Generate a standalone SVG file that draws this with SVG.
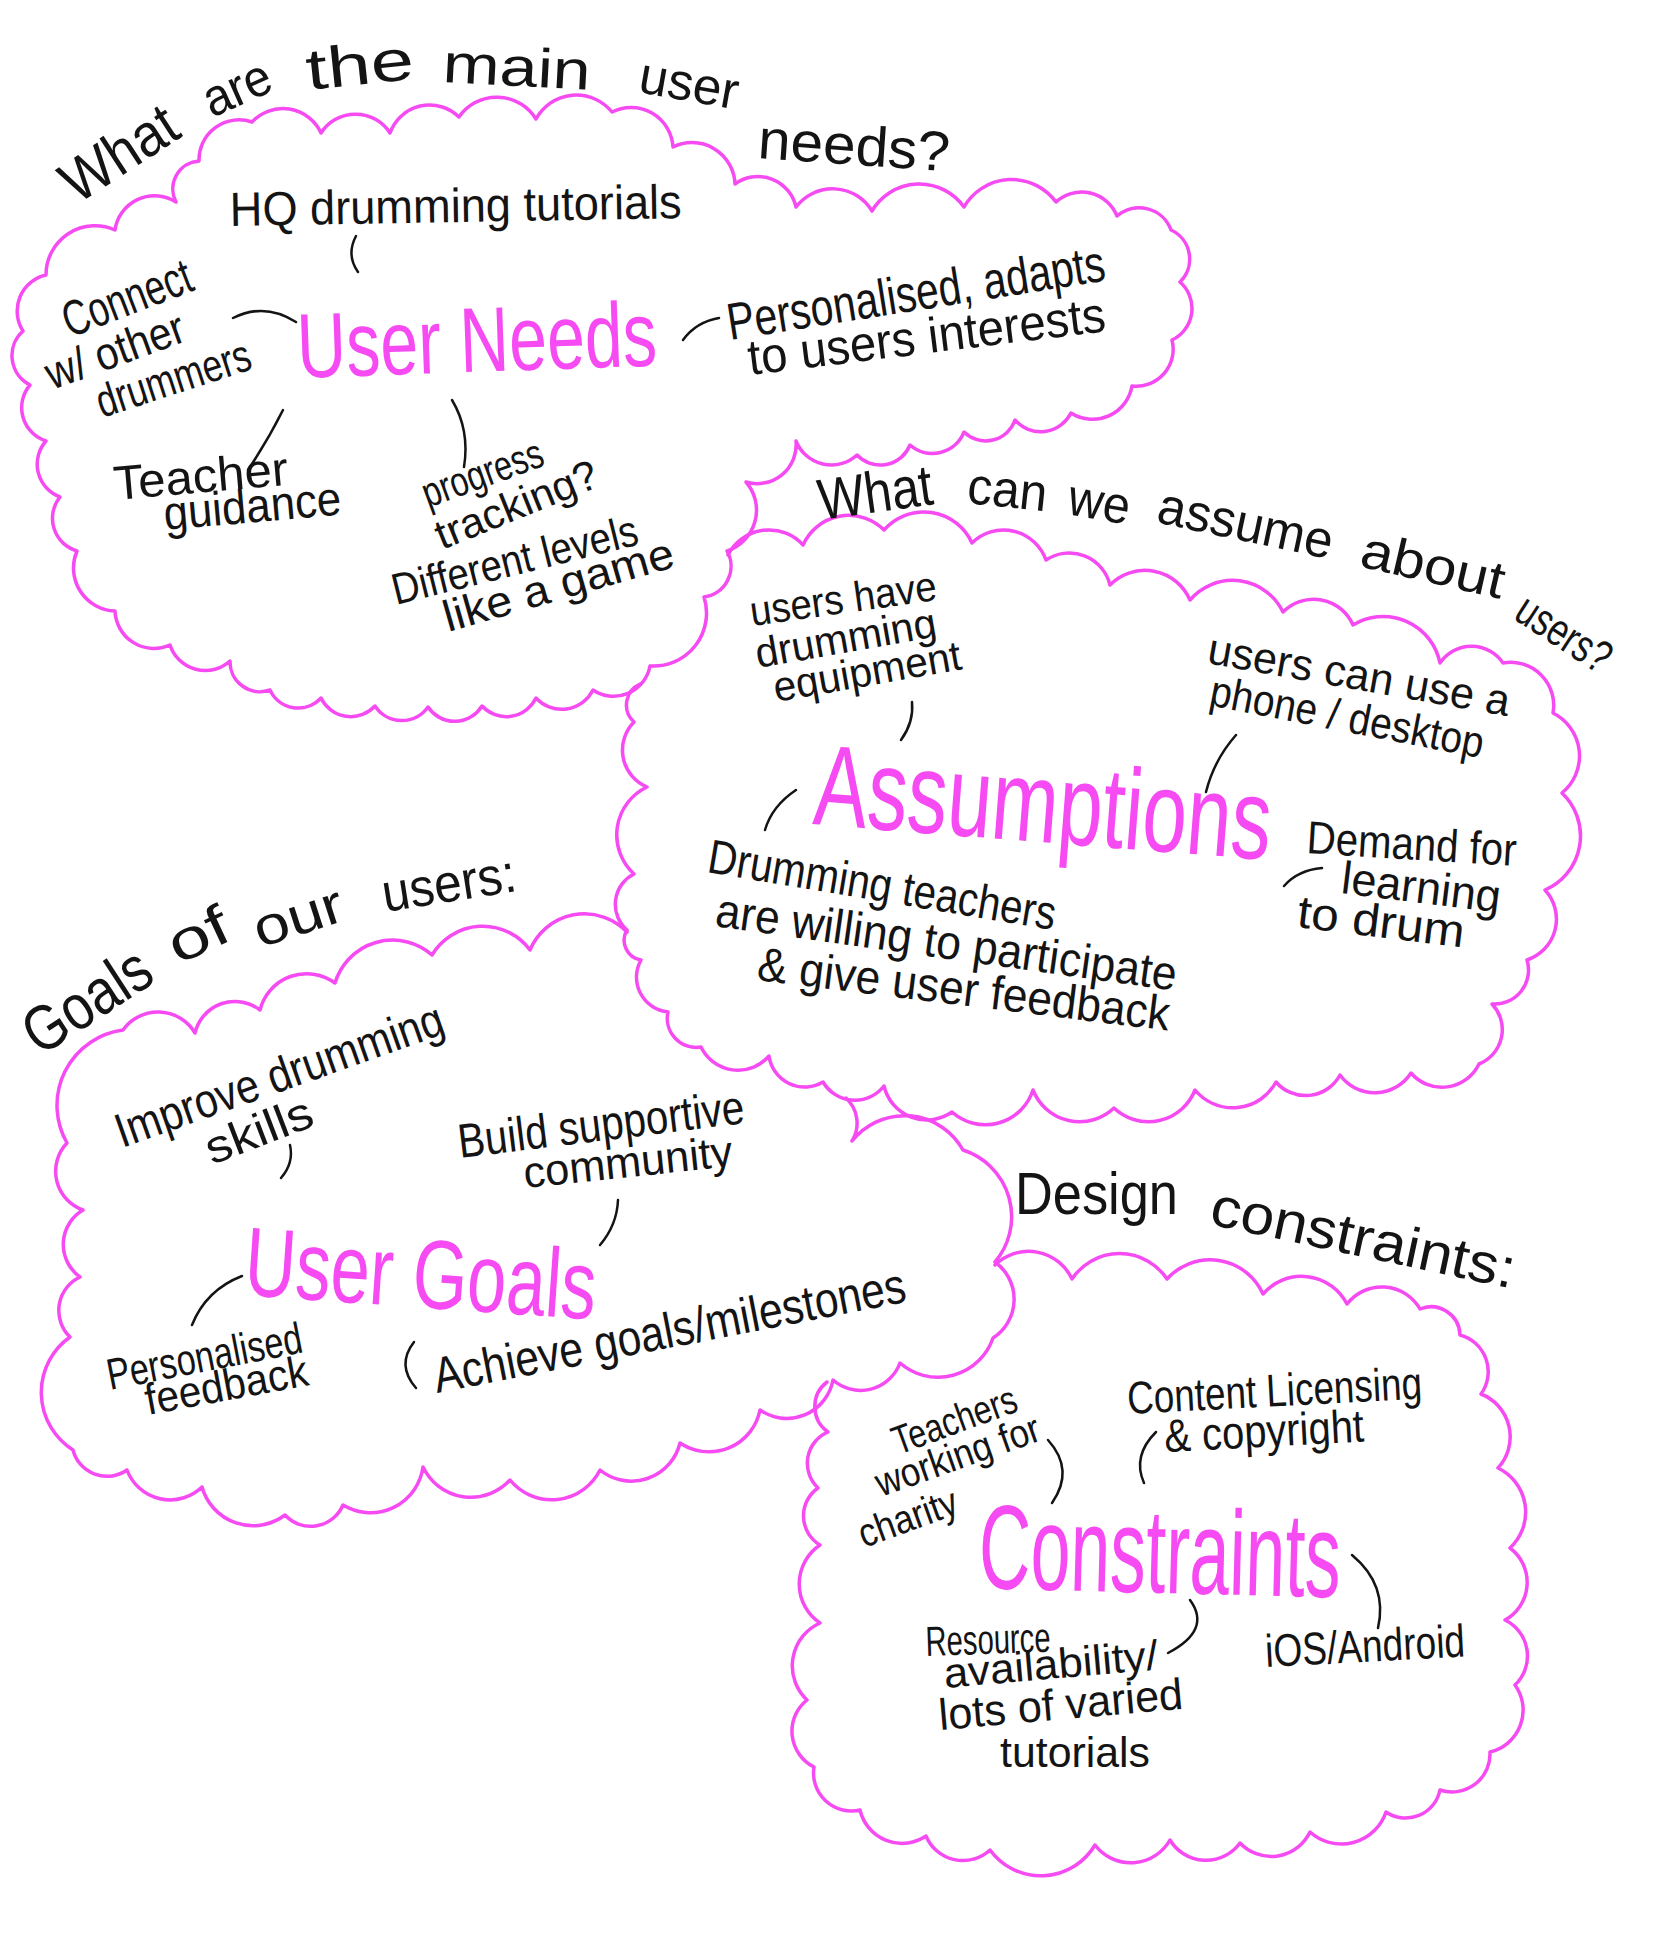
<svg xmlns="http://www.w3.org/2000/svg" width="1660" height="1949" viewBox="0 0 1660 1949">
<style>
.cloud{fill:none;stroke:#f64af2;stroke-width:3.5;stroke-linejoin:round;stroke-linecap:round}
.title{font-family:'Liberation Sans',Arial,sans-serif;fill:#f64af2}
.hand{font-family:'Liberation Sans',Arial,sans-serif;fill:#141414}
.conn{fill:none;stroke:#141414;stroke-width:2.5;stroke-linecap:round}
</style>
<rect width="1660" height="1949" fill="#ffffff"/>

<g id="cloud-needs">
<path class="cloud" d="M176,202 A28,28 0 0 1 199,161 A40,40 0 0 1 252,122 A42,42 0 0 1 321,133 A41,41 0 0 1 390,133 A42,42 0 0 1 459,117 A46,46 0 0 1 536,119 A46,46 0 0 1 612,112 A42,42 0 0 1 673,147 A43,43 0 0 1 735,184 A39,39 0 0 1 796,207 A46,46 0 0 1 872,211 A55,55 0 0 1 964,207 A55,55 0 0 1 1056,202 A38,38 0 0 1 1117,216 A34,34 0 0 1 1171,230 A32,32 0 0 1 1180,282 A35,35 0 0 1 1172,340 A37,37 0 0 1 1132,386 A40,40 0 0 1 1071,413 A34,34 0 0 1 1015,420 A31,31 0 0 1 964,432 A34,34 0 0 1 910,445 A32,32 0 0 1 857,455 A38,38 0 0 1 796,441 A39,39 0 0 1 746,482 A43,43 0 0 1 727,551 A31,31 0 0 1 704,597 A53,53 0 0 1 650,666 A37,37 0 0 1 593,690 A35,35 0 0 1 536,698 A33,33 0 0 1 482,706 A32,32 0 0 1 428,707 A32,32 0 0 1 375,706 A33,33 0 0 1 321,698 A31,31 0 0 1 270,690 A30,30 0 0 1 230,661 A37,37 0 0 1 170,645 A39,39 0 0 1 115,611 A43,43 0 0 1 77,551 A34,34 0 0 1 60,497 A35,35 0 0 1 46,441 A35,35 0 0 1 30,385 A33,33 0 0 1 23,331 A37,37 0 0 1 46,275 A49,49 0 0 1 115,230 A40,40 0 0 1 176,202 Z"/>
<text class="title" font-size="92" transform="translate(298,378) rotate(-2)" textLength="360" lengthAdjust="spacingAndGlyphs">User Needs</text>
</g>

<g id="cloud-assumptions">
<path class="cloud" d="M728,555 A46,46 0 0 1 803,545 A50,50 0 0 1 884,530 A53,53 0 0 1 972,543 A45,45 0 0 1 1046,560 A42,42 0 0 1 1110,585 A49,49 0 0 1 1190,600 A56,56 0 0 1 1283,612 A43,43 0 0 1 1353,625 A58,58 0 0 1 1440,663 A38,38 0 0 1 1503,663 A43,43 0 0 1 1553,713 A48,48 0 0 1 1562,793 A59,59 0 0 1 1545,890 A43,43 0 0 1 1527,960 A34,34 0 0 1 1492,1004 A37,37 0 0 1 1479,1064 A41,41 0 0 1 1411,1073 A43,43 0 0 1 1340,1075 A39,39 0 0 1 1276,1082 A49,49 0 0 1 1195,1090 A50,50 0 0 1 1114,1108 A50,50 0 0 1 1033,1090 A50,50 0 0 1 952,1112 A44,44 0 0 1 884,1086 A37,37 0 0 1 823,1082 A36,36 0 0 1 769,1056 A41,41 0 0 1 701,1047 A29,29 0 0 1 668,1012 A35,35 0 0 1 641,960 A20,20 0 0 1 627,930 A34,34 0 0 1 634,874 A53,53 0 0 1 647,787 A40,40 0 0 1 634,722 A23,23 0 0 1 640,684"/>
<text class="title" font-size="115" transform="translate(812,824) rotate(4.5)" textLength="458" lengthAdjust="spacingAndGlyphs">Assumptions</text>
</g>

<g id="cloud-goals">
<path class="cloud" d="M846,1098 A34,34 0 0 1 852,1141 A67,67 0 0 1 963,1150 A70,70 0 0 1 995,1262 A46,46 0 0 1 993,1338 A58,58 0 0 1 900,1363 A42,42 0 0 1 833,1380 A47,47 0 0 1 760,1410 A52,52 0 0 1 680,1443 A50,50 0 0 1 600,1470 A54,54 0 0 1 510,1480 A53,53 0 0 1 423,1467 A53,53 0 0 1 343,1505 A35,35 0 0 1 285,1515 A53,53 0 0 1 202,1487 A46,46 0 0 1 127,1470 A35,35 0 0 1 73,1450 A68,68 0 0 1 70,1337 A37,37 0 0 1 80,1277 A40,40 0 0 1 83,1210 A41,41 0 0 1 67,1143 A76,76 0 0 1 123,1030 A43,43 0 0 1 195,1033 A41,41 0 0 1 260,1010 A48,48 0 0 1 335,983 A60,60 0 0 1 432,955 A59,59 0 0 1 530,950 A59,59 0 0 1 627,932"/>
<text class="title" font-size="98" transform="translate(243,1295) rotate(4)" textLength="352" lengthAdjust="spacingAndGlyphs">User Goals</text>
</g>

<g id="cloud-constraints">
<path class="cloud" d="M995,1265 A48,48 0 0 1 1072,1279 A57,57 0 0 1 1167,1279 A58,58 0 0 1 1263,1294 A51,51 0 0 1 1347,1304 A44,44 0 0 1 1420,1309 A29,29 0 0 1 1460,1335 A38,38 0 0 1 1481,1394 A46,46 0 0 1 1498,1468 A49,49 0 0 1 1510,1548 A43,43 0 0 1 1505,1620 A40,40 0 0 1 1515,1685 A43,43 0 0 1 1490,1752 A38,38 0 0 1 1440,1790 A35,35 0 0 1 1386,1812 A47,47 0 0 1 1310,1832 A43,43 0 0 1 1240,1843 A42,42 0 0 1 1170,1840 A45,45 0 0 1 1095,1845 A63,63 0 0 1 990,1850 A40,40 0 0 1 926,1836 A43,43 0 0 1 860,1810 A38,38 0 0 1 814,1767 A40,40 0 0 1 807,1700 A47,47 0 0 1 820,1623 A47,47 0 0 1 820,1545 A34,34 0 0 1 818,1488 A34,34 0 0 1 828,1432 A31,31 0 0 1 827,1382"/>
<text class="title" font-size="120" transform="translate(978,1588) rotate(1.5)" textLength="362" lengthAdjust="spacingAndGlyphs">Constraints</text>
</g>

<g id="heading-needs" class="hand">
<text font-size="60" transform="translate(77,205) rotate(-33)" textLength="127" lengthAdjust="spacingAndGlyphs">What</text>
<text font-size="52" transform="translate(212,118) rotate(-24)" textLength="70" lengthAdjust="spacingAndGlyphs">are</text>
<text font-size="58" transform="translate(308,90) rotate(-6)" textLength="108" lengthAdjust="spacingAndGlyphs">the</text>
<text font-size="55" transform="translate(442,82) rotate(3)" textLength="148" lengthAdjust="spacingAndGlyphs">main</text>
<text font-size="52" transform="translate(637,92) rotate(10)" textLength="100" lengthAdjust="spacingAndGlyphs">user</text>
<text font-size="56" transform="translate(757,158) rotate(4)" textLength="192" lengthAdjust="spacingAndGlyphs">needs?</text>
</g>

<g id="heading-assumptions" class="hand">
<text font-size="58" transform="translate(821,520) rotate(-8)" textLength="115" lengthAdjust="spacingAndGlyphs">What</text>
<text font-size="52" transform="translate(966,503) rotate(6)" textLength="80" lengthAdjust="spacingAndGlyphs">can</text>
<text font-size="52" transform="translate(1066,514) rotate(10)" textLength="62" lengthAdjust="spacingAndGlyphs">we</text>
<text font-size="52" transform="translate(1155,522) rotate(12)" textLength="178" lengthAdjust="spacingAndGlyphs">assume</text>
<text font-size="52" transform="translate(1358,566) rotate(13)" textLength="146" lengthAdjust="spacingAndGlyphs">about</text>
<text font-size="46" transform="translate(1512,618) rotate(33)" textLength="104" lengthAdjust="spacingAndGlyphs">users?</text>
</g>

<g id="heading-goals" class="hand">
<text font-size="64" transform="translate(40,1057) rotate(-33)" textLength="140" lengthAdjust="spacingAndGlyphs">Goals</text>
<text font-size="56" transform="translate(178,965) rotate(-25)" textLength="62" lengthAdjust="spacingAndGlyphs">of</text>
<text font-size="54" transform="translate(260,948) rotate(-18)" textLength="92" lengthAdjust="spacingAndGlyphs">our</text>
<text font-size="54" transform="translate(385,912) rotate(-9)" textLength="135" lengthAdjust="spacingAndGlyphs">users:</text>
</g>

<g id="heading-constraints" class="hand">
<text font-size="60" transform="translate(1015,1214)" textLength="163" lengthAdjust="spacingAndGlyphs">Design</text>
<text font-size="56" transform="translate(1208,1224) rotate(12)" textLength="310" lengthAdjust="spacingAndGlyphs">constraints:</text>
</g>

<g id="need-hq" class="hand"><text font-size="48" transform="translate(230,226) rotate(-1)" textLength="452" lengthAdjust="spacingAndGlyphs">HQ drumming tutorials</text></g>
<g id="need-connect" class="hand">
<text font-size="50" transform="translate(70,338) rotate(-21)" textLength="135" lengthAdjust="spacingAndGlyphs">Connect</text>
<text font-size="46" transform="translate(52,390) rotate(-20)" textLength="145" lengthAdjust="spacingAndGlyphs">w/ other</text>
<text font-size="46" transform="translate(102,418) rotate(-18)" textLength="160" lengthAdjust="spacingAndGlyphs">drummers</text>
</g>
<g id="need-personalised" class="hand">
<text font-size="52" transform="translate(730,340) rotate(-9)" textLength="382" lengthAdjust="spacingAndGlyphs">Personalised, adapts</text>
<text font-size="50" transform="translate(750,375) rotate(-7)" textLength="360" lengthAdjust="spacingAndGlyphs">to users interests</text>
</g>
<g id="need-teacher" class="hand">
<text font-size="48" transform="translate(115,500) rotate(-5)" textLength="175" lengthAdjust="spacingAndGlyphs">Teacher</text>
<text font-size="48" transform="translate(165,530) rotate(-5)" textLength="178" lengthAdjust="spacingAndGlyphs">guidance</text>
</g>
<g id="need-progress" class="hand">
<text font-size="42" transform="translate(428,508) rotate(-20)" textLength="126" lengthAdjust="spacingAndGlyphs">progress</text>
<text font-size="42" transform="translate(442,550) rotate(-22)" textLength="172" lengthAdjust="spacingAndGlyphs">tracking?</text>
<text font-size="44" transform="translate(396,605) rotate(-14)" textLength="252" lengthAdjust="spacingAndGlyphs">Different levels</text>
<text font-size="44" transform="translate(448,632) rotate(-16)" textLength="238" lengthAdjust="spacingAndGlyphs">like a game</text>
</g>

<g id="assume-equipment" class="hand">
<text font-size="42" transform="translate(752,626) rotate(-8)" textLength="188" lengthAdjust="spacingAndGlyphs">users have</text>
<text font-size="42" transform="translate(758,668) rotate(-10)" textLength="183" lengthAdjust="spacingAndGlyphs">drumming</text>
<text font-size="42" transform="translate(776,702) rotate(-10)" textLength="190" lengthAdjust="spacingAndGlyphs">equipment</text>
</g>
<g id="assume-phone" class="hand">
<text font-size="44" transform="translate(1206,663) rotate(10)" textLength="306" lengthAdjust="spacingAndGlyphs">users can use a</text>
<text font-size="44" transform="translate(1208,705) rotate(11)" textLength="278" lengthAdjust="spacingAndGlyphs">phone / desktop</text>
</g>
<g id="assume-demand" class="hand">
<text font-size="46" transform="translate(1306,853) rotate(3.5)" textLength="210" lengthAdjust="spacingAndGlyphs">Demand for</text>
<text font-size="46" transform="translate(1340,893) rotate(7)" textLength="160" lengthAdjust="spacingAndGlyphs">learning</text>
<text font-size="46" transform="translate(1296,927) rotate(7)" textLength="168" lengthAdjust="spacingAndGlyphs">to drum</text>
</g>
<g id="assume-teachers" class="hand">
<text font-size="48" transform="translate(706,872) rotate(9.5)" textLength="352" lengthAdjust="spacingAndGlyphs">Drumming teachers</text>
<text font-size="48" transform="translate(714,926) rotate(8)" textLength="465" lengthAdjust="spacingAndGlyphs">are willing to participate</text>
<text font-size="48" transform="translate(756,980) rotate(7)" textLength="415" lengthAdjust="spacingAndGlyphs">&amp; give user feedback</text>
</g>

<g id="goal-improve" class="hand">
<text font-size="48" transform="translate(122,1148) rotate(-19.5)" textLength="345" lengthAdjust="spacingAndGlyphs">Improve drumming</text>
<text font-size="46" transform="translate(212,1165) rotate(-21)" textLength="112" lengthAdjust="spacingAndGlyphs">skills</text>
</g>
<g id="goal-community" class="hand">
<text font-size="48" transform="translate(460,1158) rotate(-7)" textLength="288" lengthAdjust="spacingAndGlyphs">Build supportive</text>
<text font-size="44" transform="translate(525,1188) rotate(-6)" textLength="210" lengthAdjust="spacingAndGlyphs">community</text>
</g>
<g id="goal-feedback" class="hand">
<text font-size="44" transform="translate(110,1390) rotate(-11)" textLength="198" lengthAdjust="spacingAndGlyphs">Personalised</text>
<text font-size="44" transform="translate(148,1415) rotate(-10.5)" textLength="165" lengthAdjust="spacingAndGlyphs">feedback</text>
</g>
<g id="goal-achieve" class="hand">
<text font-size="50" transform="translate(437,1393) rotate(-11)" textLength="480" lengthAdjust="spacingAndGlyphs">Achieve goals/milestones</text>
</g>

<g id="constraint-licensing" class="hand">
<text font-size="46" transform="translate(1128,1414) rotate(-3)" textLength="295" lengthAdjust="spacingAndGlyphs">Content Licensing</text>
<text font-size="46" transform="translate(1165,1452) rotate(-3)" textLength="200" lengthAdjust="spacingAndGlyphs">&amp; copyright</text>
</g>
<g id="constraint-charity" class="hand">
<text font-size="40" transform="translate(898,1455) rotate(-20)" textLength="130" lengthAdjust="spacingAndGlyphs">Teachers</text>
<text font-size="40" transform="translate(881,1497) rotate(-19.5)" textLength="172" lengthAdjust="spacingAndGlyphs">working for</text>
<text font-size="40" transform="translate(864,1548) rotate(-20)" textLength="103" lengthAdjust="spacingAndGlyphs">charity</text>
</g>
<g id="constraint-resource" class="hand">
<text font-size="42" transform="translate(926,1656) rotate(-2)" textLength="125" lengthAdjust="spacingAndGlyphs">Resource</text>
<text font-size="42" transform="translate(945,1688) rotate(-5)" textLength="215" lengthAdjust="spacingAndGlyphs">availability/</text>
<text font-size="44" transform="translate(940,1730) rotate(-5)" textLength="245" lengthAdjust="spacingAndGlyphs">lots of varied</text>
<text font-size="42" transform="translate(1000,1767)" textLength="150" lengthAdjust="spacingAndGlyphs">tutorials</text>
</g>
<g id="constraint-platform" class="hand">
<text font-size="46" transform="translate(1266,1667) rotate(-3)" textLength="200" lengthAdjust="spacingAndGlyphs">iOS/Android</text>
</g>

<g id="connectors">
<path class="conn" d="M356,236 Q346,255 358,272"/>
<path class="conn" d="M233,318 Q265,302 296,322"/>
<path class="conn" d="M683,340 Q696,322 719,318"/>
<path class="conn" d="M283,410 Q268,440 248,470"/>
<path class="conn" d="M452,400 Q470,430 464,467"/>
<path class="conn" d="M912,702 Q914,722 901,740"/>
<path class="conn" d="M1236,735 Q1214,760 1206,792"/>
<path class="conn" d="M796,790 Q772,806 765,830"/>
<path class="conn" d="M1284,886 Q1298,870 1322,868"/>
<path class="conn" d="M290,1145 Q294,1163 281,1178"/>
<path class="conn" d="M618,1200 Q617,1225 600,1245"/>
<path class="conn" d="M242,1276 Q206,1290 192,1325"/>
<path class="conn" d="M414,1342 Q396,1365 416,1388"/>
<path class="conn" d="M1048,1440 Q1075,1470 1052,1503"/>
<path class="conn" d="M1156,1432 Q1132,1456 1144,1483"/>
<path class="conn" d="M1352,1555 Q1388,1585 1378,1628"/>
<path class="conn" d="M1190,1600 Q1212,1630 1168,1653"/>
</g>
</svg>
